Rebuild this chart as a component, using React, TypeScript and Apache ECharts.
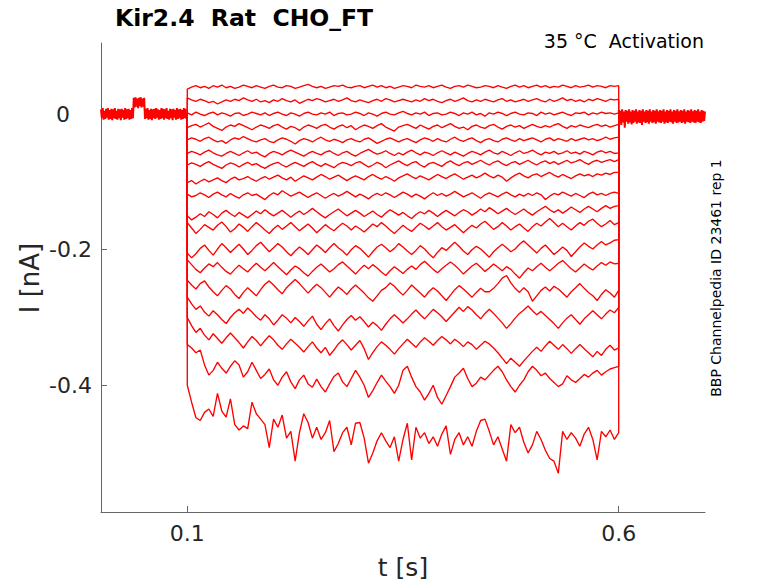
import { useEffect, useRef } from "react";
import * as echarts from "echarts";

// Kir2.4 activation sweeps, current in nA.
// Holding segment (t = 0 .. 0.1 s) and tail (t = 0.6 .. 0.7 s), sampled every 1 ms
const BASE_DT = 0.001;
const PRE = [
  0.007,-0.006,0.009,-0.008,0.005,-0.007,0.008,-0.005,0.009,-0.008,
  0.006,-0.007,0.008,-0.009,0.007,-0.006,0.009,-0.007,0.005,-0.008,
  0.008,-0.006,0.007,-0.009,0.008,-0.005,0.006,-0.008,0.009,-0.007,
  0.007,-0.006,0.008,-0.008,0.006,-0.007,0.009,-0.006,0.024,0.010,
  0.025,0.011,0.023,0.009,0.024,0.012,0.025,0.010,0.023,0.011,
  0.024,-0.007,0.008,-0.006,0.009,-0.008,0.006,-0.007,0.008,-0.009,
  0.007,-0.006,0.008,-0.007,0.009,-0.005,0.007,-0.008,0.006,-0.007,
  0.009,-0.006,0.008,-0.008,0.007,-0.006,0.009,-0.007,0.005,-0.008,
  0.008,-0.006,0.007,-0.009,0.008,-0.005,0.006,-0.008,0.009,-0.007,
  0.007,-0.006,0.008,-0.008,0.006,-0.007,0.009,-0.006,0.008,-0.007,
  -0.004,
];
const POST = [
  0.006,-0.013,0.005,-0.016,0.007,-0.012,0.004,-0.020,0.006,-0.011,
  0.005,-0.014,0.007,-0.012,0.004,-0.015,0.006,-0.013,0.005,-0.011,
  0.007,-0.014,0.004,-0.012,0.006,-0.013,0.005,-0.016,0.007,-0.011,
  0.004,-0.013,0.006,-0.012,0.005,-0.014,0.007,-0.011,0.004,-0.013,
  0.006,-0.012,0.005,-0.014,0.007,-0.011,0.004,-0.012,0.006,-0.013,
  0.005,-0.011,0.007,-0.014,0.004,-0.012,0.006,-0.013,0.005,-0.011,
  0.007,-0.012,0.004,-0.014,0.006,-0.011,0.005,-0.013,0.007,-0.012,
  0.004,-0.011,0.006,-0.013,0.005,-0.012,0.007,-0.014,0.004,-0.011,
  0.006,-0.012,0.005,-0.013,0.007,-0.011,0.004,-0.012,0.006,-0.013,
  0.005,-0.011,0.007,-0.012,0.004,-0.013,0.006,-0.011,0.005,-0.010,
  0.004,
];

// Test pulse: t = 0.1 .. 0.6 s, every 5 ms
const STEP_T0 = 0.1;
const STEP_DT = 0.005;
const SWEEP_1 = [
  0.037,0.040,0.042,0.039,0.041,0.038,0.042,0.040,0.043,0.039,
  0.041,0.038,0.040,0.043,0.041,0.039,0.042,0.040,0.038,0.041,
  0.043,0.040,0.039,0.042,0.041,0.038,0.040,0.042,0.044,0.041,
  0.039,0.041,0.038,0.040,0.042,0.041,0.043,0.040,0.039,0.041,
  0.042,0.039,0.041,0.043,0.040,0.042,0.039,0.041,0.038,0.040,
  0.042,0.041,0.039,0.043,0.041,0.040,0.042,0.039,0.041,0.043,
  0.040,0.038,0.041,0.042,0.040,0.043,0.041,0.039,0.040,0.042,
  0.041,0.039,0.042,0.040,0.038,0.041,0.043,0.040,0.042,0.039,
  0.041,0.043,0.040,0.042,0.039,0.041,0.040,0.043,0.041,0.039,
  0.042,0.040,0.041,0.043,0.040,0.042,0.041,0.039,0.042,0.041,
  0.042,
];
const SWEEP_2 = [
  0.024,0.021,0.019,0.022,0.020,0.017,0.019,0.015,0.018,0.021,
  0.019,0.022,0.020,0.024,0.021,0.019,0.022,0.018,0.020,0.017,
  0.021,0.019,0.023,0.020,0.018,0.021,0.016,0.019,0.022,0.020,
  0.023,0.021,0.018,0.020,0.022,0.019,0.021,0.024,0.020,0.018,
  0.021,0.019,0.017,0.020,0.022,0.019,0.023,0.021,0.018,0.020,
  0.022,0.020,0.018,0.021,0.019,0.023,0.020,0.022,0.019,0.017,
  0.020,0.022,0.019,0.021,0.024,0.020,0.018,0.021,0.019,0.022,
  0.020,0.018,0.021,0.023,0.019,0.021,0.018,0.020,0.022,0.019,
  0.021,0.023,0.020,0.018,0.022,0.019,0.021,0.024,0.020,0.022,
  0.019,0.021,0.018,0.022,0.020,0.023,0.021,0.019,0.022,0.021,
  0.022,
];
const SWEEP_3 = [
  0.002,-0.001,0.003,0.000,-0.002,0.001,0.003,-0.001,0.002,0.000,
  -0.003,0.001,0.002,-0.002,0.000,0.003,0.001,-0.001,0.002,-0.002,
  0.001,0.003,0.000,-0.002,0.002,0.000,-0.003,0.001,0.003,0.000,
  -0.001,0.002,0.000,0.003,-0.002,0.001,0.002,-0.001,0.000,0.003,
  0.001,-0.002,0.002,0.000,-0.003,0.001,0.003,0.000,-0.001,0.002,
  0.004,0.001,-0.001,0.002,0.000,0.003,-0.002,0.001,0.002,-0.001,
  0.000,0.003,0.001,-0.002,0.002,0.000,0.003,-0.001,0.001,-0.003,
  0.002,0.000,0.003,0.001,-0.002,0.001,0.003,0.000,-0.001,0.002,
  0.001,-0.002,0.003,0.000,0.002,-0.001,0.001,0.003,0.000,-0.002,
  0.002,0.001,0.003,-0.001,0.002,0.000,0.003,0.001,0.002,0.000,
  0.002,
];
const SWEEP_4 = [
  -0.020,-0.017,-0.015,-0.019,-0.016,-0.013,-0.018,-0.021,-0.024,-0.019,
  -0.016,-0.018,-0.014,-0.017,-0.020,-0.023,-0.019,-0.016,-0.018,-0.021,
  -0.017,-0.015,-0.019,-0.022,-0.018,-0.020,-0.024,-0.019,-0.016,-0.018,
  -0.021,-0.017,-0.015,-0.019,-0.022,-0.018,-0.016,-0.020,-0.017,-0.023,
  -0.019,-0.016,-0.018,-0.021,-0.017,-0.014,-0.019,-0.022,-0.025,-0.019,
  -0.017,-0.015,-0.018,-0.021,-0.016,-0.019,-0.022,-0.018,-0.016,-0.020,
  -0.017,-0.014,-0.018,-0.021,-0.019,-0.023,-0.018,-0.016,-0.019,-0.021,
  -0.017,-0.015,-0.019,-0.022,-0.018,-0.016,-0.019,-0.017,-0.021,-0.018,
  -0.015,-0.018,-0.020,-0.017,-0.019,-0.016,-0.014,-0.018,-0.021,-0.017,
  -0.019,-0.016,-0.018,-0.020,-0.017,-0.015,-0.018,-0.016,-0.019,-0.017,
  -0.015,
];
const SWEEP_5 = [
  -0.038,-0.035,-0.037,-0.040,-0.036,-0.034,-0.038,-0.041,-0.039,-0.043,
  -0.038,-0.035,-0.037,-0.033,-0.036,-0.039,-0.041,-0.038,-0.036,-0.040,
  -0.042,-0.038,-0.035,-0.037,-0.040,-0.044,-0.039,-0.036,-0.038,-0.041,
  -0.037,-0.034,-0.038,-0.040,-0.037,-0.039,-0.042,-0.038,-0.036,-0.039,
  -0.041,-0.037,-0.035,-0.039,-0.043,-0.040,-0.037,-0.035,-0.038,-0.041,
  -0.038,-0.036,-0.039,-0.042,-0.038,-0.035,-0.037,-0.040,-0.036,-0.039,
  -0.041,-0.037,-0.034,-0.038,-0.040,-0.037,-0.035,-0.039,-0.042,-0.038,
  -0.036,-0.039,-0.041,-0.037,-0.035,-0.038,-0.040,-0.036,-0.039,-0.037,
  -0.035,-0.038,-0.041,-0.037,-0.035,-0.039,-0.036,-0.038,-0.040,-0.036,
  -0.039,-0.037,-0.035,-0.038,-0.036,-0.039,-0.037,-0.034,-0.037,-0.035,
  -0.034,
];
const SWEEP_6 = [
  -0.058,-0.055,-0.057,-0.060,-0.056,-0.053,-0.057,-0.060,-0.062,-0.058,
  -0.055,-0.058,-0.061,-0.057,-0.054,-0.058,-0.056,-0.060,-0.063,-0.058,
  -0.055,-0.057,-0.060,-0.056,-0.053,-0.056,-0.059,-0.062,-0.058,-0.055,
  -0.058,-0.060,-0.056,-0.054,-0.058,-0.061,-0.057,-0.055,-0.059,-0.062,
  -0.058,-0.055,-0.052,-0.056,-0.059,-0.057,-0.054,-0.058,-0.061,-0.057,
  -0.060,-0.056,-0.053,-0.057,-0.060,-0.056,-0.058,-0.061,-0.057,-0.054,
  -0.057,-0.060,-0.056,-0.059,-0.062,-0.058,-0.055,-0.057,-0.060,-0.056,
  -0.053,-0.057,-0.059,-0.055,-0.058,-0.061,-0.057,-0.054,-0.058,-0.056,
  -0.053,-0.057,-0.060,-0.056,-0.058,-0.055,-0.059,-0.057,-0.054,-0.058,
  -0.056,-0.059,-0.055,-0.057,-0.060,-0.056,-0.054,-0.057,-0.055,-0.058,
  -0.057,
];
const SWEEP_7 = [
  -0.075,-0.072,-0.074,-0.077,-0.073,-0.070,-0.074,-0.077,-0.080,-0.075,
  -0.072,-0.074,-0.078,-0.074,-0.071,-0.075,-0.073,-0.077,-0.080,-0.076,
  -0.073,-0.071,-0.075,-0.078,-0.074,-0.071,-0.074,-0.077,-0.073,-0.070,
  -0.074,-0.077,-0.073,-0.076,-0.079,-0.074,-0.071,-0.073,-0.076,-0.072,
  -0.070,-0.074,-0.078,-0.075,-0.071,-0.074,-0.079,-0.075,-0.072,-0.069,
  -0.073,-0.076,-0.072,-0.070,-0.075,-0.078,-0.073,-0.071,-0.074,-0.077,
  -0.072,-0.069,-0.073,-0.076,-0.072,-0.070,-0.074,-0.071,-0.068,-0.072,
  -0.075,-0.071,-0.069,-0.073,-0.076,-0.072,-0.070,-0.074,-0.071,-0.068,
  -0.072,-0.075,-0.071,-0.069,-0.073,-0.070,-0.074,-0.071,-0.068,-0.072,
  -0.070,-0.067,-0.071,-0.074,-0.070,-0.068,-0.071,-0.069,-0.067,-0.070,
  -0.067,
];
const SWEEP_8 = [
  -0.101,-0.098,-0.103,-0.099,-0.096,-0.100,-0.097,-0.094,-0.098,-0.101,
  -0.096,-0.093,-0.097,-0.095,-0.092,-0.096,-0.099,-0.095,-0.092,-0.096,
  -0.093,-0.090,-0.094,-0.097,-0.093,-0.099,-0.095,-0.091,-0.094,-0.097,
  -0.093,-0.089,-0.092,-0.096,-0.093,-0.090,-0.094,-0.098,-0.094,-0.091,
  -0.094,-0.097,-0.092,-0.089,-0.093,-0.096,-0.092,-0.095,-0.099,-0.094,
  -0.091,-0.088,-0.092,-0.095,-0.091,-0.094,-0.097,-0.093,-0.089,-0.092,
  -0.095,-0.091,-0.088,-0.092,-0.096,-0.093,-0.090,-0.094,-0.091,-0.087,
  -0.091,-0.094,-0.090,-0.093,-0.099,-0.094,-0.090,-0.087,-0.091,-0.094,
  -0.090,-0.088,-0.092,-0.089,-0.086,-0.090,-0.093,-0.089,-0.092,-0.095,
  -0.091,-0.088,-0.091,-0.089,-0.092,-0.088,-0.090,-0.087,-0.089,-0.086,
  -0.086,
];
const SWEEP_9 = [
  -0.118,-0.122,-0.120,-0.116,-0.119,-0.123,-0.118,-0.115,-0.119,-0.122,
  -0.117,-0.121,-0.124,-0.119,-0.116,-0.120,-0.118,-0.122,-0.126,-0.120,
  -0.116,-0.119,-0.113,-0.117,-0.121,-0.118,-0.115,-0.119,-0.123,-0.119,
  -0.116,-0.120,-0.124,-0.120,-0.117,-0.121,-0.118,-0.114,-0.118,-0.122,
  -0.118,-0.121,-0.125,-0.120,-0.117,-0.120,-0.116,-0.119,-0.123,-0.119,
  -0.115,-0.118,-0.122,-0.118,-0.121,-0.125,-0.120,-0.116,-0.120,-0.117,
  -0.121,-0.118,-0.114,-0.118,-0.122,-0.119,-0.116,-0.120,-0.124,-0.119,
  -0.116,-0.119,-0.122,-0.118,-0.115,-0.119,-0.122,-0.118,-0.121,-0.117,
  -0.120,-0.116,-0.119,-0.126,-0.121,-0.117,-0.119,-0.115,-0.118,-0.121,
  -0.117,-0.120,-0.123,-0.118,-0.115,-0.119,-0.117,-0.120,-0.117,-0.115,
  -0.117,
];
const SWEEP_10 = [
  -0.150,-0.156,-0.152,-0.147,-0.151,-0.144,-0.148,-0.153,-0.146,-0.142,
  -0.147,-0.151,-0.145,-0.149,-0.153,-0.148,-0.143,-0.147,-0.141,-0.146,
  -0.150,-0.146,-0.142,-0.147,-0.152,-0.147,-0.143,-0.148,-0.144,-0.139,
  -0.144,-0.149,-0.153,-0.148,-0.144,-0.140,-0.145,-0.150,-0.146,-0.142,
  -0.146,-0.151,-0.147,-0.143,-0.148,-0.152,-0.146,-0.141,-0.145,-0.149,
  -0.145,-0.150,-0.154,-0.148,-0.144,-0.147,-0.142,-0.146,-0.151,-0.146,
  -0.142,-0.146,-0.150,-0.145,-0.141,-0.144,-0.149,-0.145,-0.140,-0.144,
  -0.138,-0.142,-0.147,-0.143,-0.139,-0.144,-0.148,-0.144,-0.140,-0.145,
  -0.149,-0.144,-0.140,-0.136,-0.141,-0.145,-0.141,-0.146,-0.142,-0.137,
  -0.141,-0.145,-0.140,-0.136,-0.140,-0.144,-0.139,-0.135,-0.139,-0.136,
  -0.135,
];
const SWEEP_11 = [
  -0.160,-0.168,-0.176,-0.170,-0.163,-0.167,-0.171,-0.164,-0.159,-0.166,
  -0.174,-0.169,-0.162,-0.167,-0.173,-0.166,-0.160,-0.165,-0.171,-0.176,
  -0.169,-0.164,-0.170,-0.165,-0.160,-0.166,-0.172,-0.167,-0.162,-0.168,
  -0.175,-0.169,-0.163,-0.168,-0.172,-0.166,-0.161,-0.165,-0.171,-0.165,
  -0.169,-0.174,-0.168,-0.162,-0.166,-0.160,-0.165,-0.171,-0.176,-0.170,
  -0.164,-0.169,-0.173,-0.167,-0.161,-0.165,-0.170,-0.165,-0.160,-0.166,
  -0.171,-0.167,-0.163,-0.169,-0.175,-0.169,-0.164,-0.168,-0.162,-0.158,
  -0.164,-0.170,-0.166,-0.160,-0.165,-0.171,-0.166,-0.162,-0.168,-0.173,
  -0.166,-0.161,-0.165,-0.159,-0.154,-0.160,-0.166,-0.161,-0.166,-0.171,
  -0.165,-0.160,-0.164,-0.158,-0.155,-0.161,-0.166,-0.162,-0.157,-0.163,
  -0.160,
];
const SWEEP_12 = [
  -0.205,-0.212,-0.206,-0.198,-0.193,-0.201,-0.208,-0.199,-0.191,-0.197,
  -0.204,-0.198,-0.192,-0.199,-0.207,-0.201,-0.194,-0.189,-0.196,-0.203,
  -0.197,-0.191,-0.196,-0.203,-0.209,-0.202,-0.196,-0.201,-0.207,-0.200,
  -0.193,-0.198,-0.204,-0.197,-0.191,-0.197,-0.202,-0.208,-0.200,-0.194,
  -0.198,-0.204,-0.211,-0.203,-0.196,-0.192,-0.197,-0.203,-0.198,-0.191,
  -0.196,-0.202,-0.207,-0.201,-0.194,-0.199,-0.206,-0.212,-0.204,-0.197,
  -0.201,-0.195,-0.189,-0.195,-0.202,-0.207,-0.200,-0.195,-0.199,-0.205,
  -0.211,-0.203,-0.197,-0.192,-0.197,-0.203,-0.199,-0.192,-0.187,-0.193,
  -0.199,-0.205,-0.198,-0.193,-0.200,-0.207,-0.202,-0.196,-0.201,-0.210,
  -0.203,-0.196,-0.190,-0.195,-0.199,-0.193,-0.188,-0.193,-0.190,-0.186,
  -0.185,
];
const SWEEP_13 = [
  -0.215,-0.222,-0.229,-0.234,-0.227,-0.221,-0.225,-0.219,-0.226,-0.232,
  -0.236,-0.229,-0.223,-0.228,-0.233,-0.226,-0.220,-0.226,-0.231,-0.225,
  -0.219,-0.225,-0.231,-0.237,-0.230,-0.224,-0.228,-0.234,-0.239,-0.232,
  -0.226,-0.221,-0.227,-0.233,-0.228,-0.222,-0.218,-0.224,-0.230,-0.236,
  -0.229,-0.223,-0.228,-0.222,-0.227,-0.233,-0.238,-0.231,-0.225,-0.230,
  -0.235,-0.229,-0.224,-0.229,-0.222,-0.217,-0.223,-0.229,-0.234,-0.228,
  -0.223,-0.218,-0.223,-0.229,-0.236,-0.230,-0.224,-0.220,-0.226,-0.232,
  -0.227,-0.221,-0.226,-0.231,-0.225,-0.229,-0.236,-0.242,-0.234,-0.227,
  -0.231,-0.225,-0.220,-0.226,-0.231,-0.226,-0.220,-0.216,-0.222,-0.228,
  -0.233,-0.227,-0.221,-0.226,-0.230,-0.224,-0.219,-0.223,-0.218,-0.221,
  -0.220,
];
const SWEEP_14 = [
  -0.245,-0.252,-0.258,-0.250,-0.246,-0.255,-0.262,-0.268,-0.260,-0.253,
  -0.258,-0.266,-0.272,-0.263,-0.256,-0.262,-0.268,-0.259,-0.251,-0.246,
  -0.252,-0.259,-0.265,-0.256,-0.250,-0.244,-0.250,-0.257,-0.264,-0.257,
  -0.251,-0.256,-0.263,-0.270,-0.262,-0.255,-0.260,-0.266,-0.258,-0.252,
  -0.258,-0.264,-0.271,-0.276,-0.268,-0.260,-0.256,-0.249,-0.254,-0.261,
  -0.267,-0.260,-0.252,-0.258,-0.264,-0.270,-0.262,-0.256,-0.261,-0.268,
  -0.275,-0.267,-0.259,-0.253,-0.258,-0.264,-0.270,-0.263,-0.257,-0.262,
  -0.262,-0.257,-0.250,-0.242,-0.238,-0.249,-0.257,-0.263,-0.256,-0.262,
  -0.276,-0.268,-0.260,-0.255,-0.261,-0.254,-0.258,-0.264,-0.270,-0.262,
  -0.256,-0.250,-0.257,-0.263,-0.268,-0.275,-0.266,-0.259,-0.264,-0.270,
  -0.260,
];
const SWEEP_15 = [
  -0.270,-0.280,-0.288,-0.283,-0.292,-0.298,-0.290,-0.296,-0.303,-0.309,
  -0.300,-0.293,-0.288,-0.294,-0.286,-0.292,-0.299,-0.304,-0.296,-0.302,
  -0.311,-0.304,-0.296,-0.301,-0.308,-0.300,-0.306,-0.313,-0.305,-0.298,
  -0.310,-0.318,-0.309,-0.302,-0.312,-0.320,-0.311,-0.303,-0.297,-0.304,
  -0.299,-0.306,-0.314,-0.307,-0.312,-0.319,-0.310,-0.302,-0.296,-0.302,
  -0.308,-0.302,-0.295,-0.289,-0.296,-0.302,-0.295,-0.288,-0.293,-0.299,
  -0.306,-0.299,-0.292,-0.285,-0.291,-0.284,-0.289,-0.296,-0.302,-0.294,
  -0.288,-0.294,-0.301,-0.308,-0.316,-0.309,-0.301,-0.294,-0.289,-0.283,
  -0.290,-0.296,-0.291,-0.297,-0.303,-0.309,-0.316,-0.308,-0.301,-0.296,
  -0.303,-0.310,-0.302,-0.296,-0.290,-0.296,-0.302,-0.295,-0.289,-0.293,
  -0.285,
];
const SWEEP_16 = [
  -0.300,-0.312,-0.322,-0.316,-0.326,-0.333,-0.324,-0.331,-0.338,-0.330,
  -0.323,-0.330,-0.337,-0.345,-0.336,-0.328,-0.334,-0.342,-0.334,-0.327,
  -0.333,-0.341,-0.347,-0.339,-0.332,-0.338,-0.344,-0.351,-0.343,-0.336,
  -0.345,-0.352,-0.344,-0.356,-0.348,-0.339,-0.333,-0.340,-0.348,-0.341,
  -0.334,-0.346,-0.362,-0.352,-0.343,-0.336,-0.341,-0.347,-0.354,-0.346,
  -0.339,-0.332,-0.338,-0.344,-0.336,-0.330,-0.335,-0.341,-0.334,-0.328,
  -0.333,-0.339,-0.332,-0.337,-0.343,-0.336,-0.340,-0.347,-0.341,-0.335,
  -0.339,-0.345,-0.352,-0.360,-0.368,-0.360,-0.366,-0.372,-0.364,-0.357,
  -0.350,-0.344,-0.350,-0.342,-0.335,-0.341,-0.347,-0.340,-0.346,-0.353,
  -0.346,-0.340,-0.346,-0.352,-0.358,-0.350,-0.356,-0.347,-0.341,-0.348,
  -0.345,
];
const SWEEP_17 = [
  -0.340,-0.345,-0.352,-0.348,-0.370,-0.385,-0.378,-0.366,-0.375,-0.382,
  -0.372,-0.364,-0.370,-0.388,-0.380,-0.366,-0.378,-0.390,-0.384,-0.376,
  -0.392,-0.400,-0.388,-0.380,-0.395,-0.405,-0.392,-0.385,-0.398,-0.403,
  -0.391,-0.402,-0.410,-0.398,-0.387,-0.382,-0.395,-0.402,-0.390,-0.378,
  -0.388,-0.400,-0.418,-0.408,-0.396,-0.385,-0.394,-0.402,-0.412,-0.400,
  -0.378,-0.372,-0.388,-0.402,-0.410,-0.422,-0.412,-0.400,-0.418,-0.428,
  -0.415,-0.402,-0.388,-0.382,-0.375,-0.390,-0.402,-0.397,-0.388,-0.392,
  -0.385,-0.378,-0.372,-0.380,-0.392,-0.402,-0.410,-0.400,-0.392,-0.380,
  -0.372,-0.378,-0.386,-0.382,-0.390,-0.396,-0.402,-0.398,-0.386,-0.392,
  -0.396,-0.390,-0.384,-0.388,-0.382,-0.378,-0.385,-0.380,-0.376,-0.374,
  -0.372,
];
const SWEEP_18 = [
  -0.400,-0.425,-0.448,-0.452,-0.440,-0.435,-0.446,-0.412,-0.438,-0.447,
  -0.420,-0.458,-0.466,-0.460,-0.464,-0.425,-0.442,-0.450,-0.458,-0.492,
  -0.450,-0.462,-0.444,-0.478,-0.468,-0.512,-0.470,-0.442,-0.455,-0.478,
  -0.462,-0.480,-0.470,-0.452,-0.498,-0.486,-0.470,-0.462,-0.488,-0.456,
  -0.455,-0.478,-0.515,-0.500,-0.482,-0.470,-0.482,-0.492,-0.476,-0.512,
  -0.480,-0.456,-0.510,-0.462,-0.478,-0.470,-0.486,-0.476,-0.490,-0.472,
  -0.460,-0.502,-0.480,-0.470,-0.488,-0.476,-0.490,-0.468,-0.452,-0.450,
  -0.468,-0.488,-0.476,-0.494,-0.512,-0.458,-0.470,-0.462,-0.484,-0.500,
  -0.488,-0.468,-0.480,-0.496,-0.508,-0.512,-0.530,-0.468,-0.480,-0.470,
  -0.478,-0.490,-0.472,-0.462,-0.480,-0.510,-0.468,-0.476,-0.466,-0.480,
  -0.470,
];
const SWEEPS = [SWEEP_1, SWEEP_2, SWEEP_3, SWEEP_4, SWEEP_5, SWEEP_6, SWEEP_7, SWEEP_8, SWEEP_9,
  SWEEP_10, SWEEP_11, SWEEP_12, SWEEP_13, SWEEP_14, SWEEP_15, SWEEP_16, SWEEP_17, SWEEP_18];

const X_TICKS = [0.1, 0.6];
const Y_TICKS = [-0.4, -0.2, 0];

const TITLE = "Kir2.4  Rat  CHO_FT";
const SUBTITLE = "35 °C  Activation";
const SIDE_NOTE = "BBP Channelpedia ID 23461 rep 1";

const FONT = '"DejaVu Sans", "Liberation Sans", sans-serif';
const RED = "#ff0000";
const AXIS = "#666666";
const INK = "#262626";

const t4 = (t: number) => Math.round(t * 10000) / 10000;

export default function App() {
  const ref = useRef<HTMLDivElement>(null);

  useEffect(() => {
    if (!ref.current) return;
    const chart = echarts.init(ref.current, undefined, { renderer: "svg" });

    const line = (data: number[][], width = 1.35) => ({
      type: "line",
      data,
      showSymbol: false,
      silent: true,
      lineStyle: { color: RED, width },
      itemStyle: { color: RED },
    });

    const preLast = PRE[PRE.length - 1];
    const stepEnd = t4(STEP_T0 + (SWEEP_1.length - 1) * STEP_DT);
    const series = [
      // all sweeps overlap during holding, so the baseline reads as a thick band
      line(PRE.map((v, i) => [t4(i * BASE_DT), v]), 2),
      line(POST.map((v, i) => [t4(stepEnd + i * BASE_DT), v]), 2),
      ...SWEEPS.map((s) =>
        line([
          [STEP_T0, preLast],
          ...s.map((v, i) => [t4(STEP_T0 + i * STEP_DT), v]),
          [stepEnd, POST[0]],
        ])
      ),
    ];

    chart.setOption({
      animation: false,
      backgroundColor: "#ffffff",
      grid: { left: 101, top: 43, width: 604, height: 469, containLabel: false },
      xAxis: {
        type: "value",
        min: 0,
        max: 0.7,
        axisLine: { show: true, onZero: false, lineStyle: { color: AXIS, width: 1 } },
        axisTick: { show: true, inside: true, length: 6, customValues: X_TICKS, lineStyle: { color: AXIS } },
        axisLabel: {
          customValues: X_TICKS, margin: 10, fontSize: 22, color: INK, fontFamily: FONT,
          formatter: (v: number) => String(v),
        },
        splitLine: { show: false },
      },
      yAxis: {
        type: "value",
        min: -0.587,
        max: 0.105,
        axisLine: { show: true, onZero: false, lineStyle: { color: AXIS, width: 1 } },
        axisTick: { show: true, inside: true, length: 6, customValues: Y_TICKS, lineStyle: { color: AXIS } },
        axisLabel: {
          customValues: Y_TICKS, margin: 9, fontSize: 22, color: INK, fontFamily: FONT,
          formatter: (v: number) => (v === 0 ? "{z|0}" : String(v)),
          rich: { z: { fontSize: 22, color: INK, fontFamily: FONT, padding: [0, 22, 0, 0] } },
        },
        splitLine: { show: false },
      },
      series,
      graphic: [
        {
          type: "text", x: 115, y: 18,
          style: { text: TITLE, font: `bold 23.5px ${FONT}`, fill: "#000", align: "left", verticalAlign: "middle" },
        },
        {
          type: "text", x: 704, y: 41,
          style: { text: SUBTITLE, font: `19px ${FONT}`, fill: "#000", align: "right", verticalAlign: "middle" },
        },
        {
          type: "text", x: 716, y: 278, rotation: Math.PI / 2,
          style: { text: SIDE_NOTE, font: `14px ${FONT}`, fill: "#000", align: "center", verticalAlign: "middle" },
        },
        {
          type: "text", x: 30, y: 278, rotation: Math.PI / 2,
          style: { text: "I [nA]", font: `26px ${FONT}`, fill: INK, align: "center", verticalAlign: "middle" },
        },
        {
          type: "text", x: 403, y: 567,
          style: { text: "t [s]", font: `25px ${FONT}`, fill: INK, align: "center", verticalAlign: "middle" },
        },
      ],
    });

    return () => chart.dispose();
  }, []);

  return <div ref={ref} style={{ position: "absolute", left: 0, top: 0, width: 778, height: 583 }} />;
}
